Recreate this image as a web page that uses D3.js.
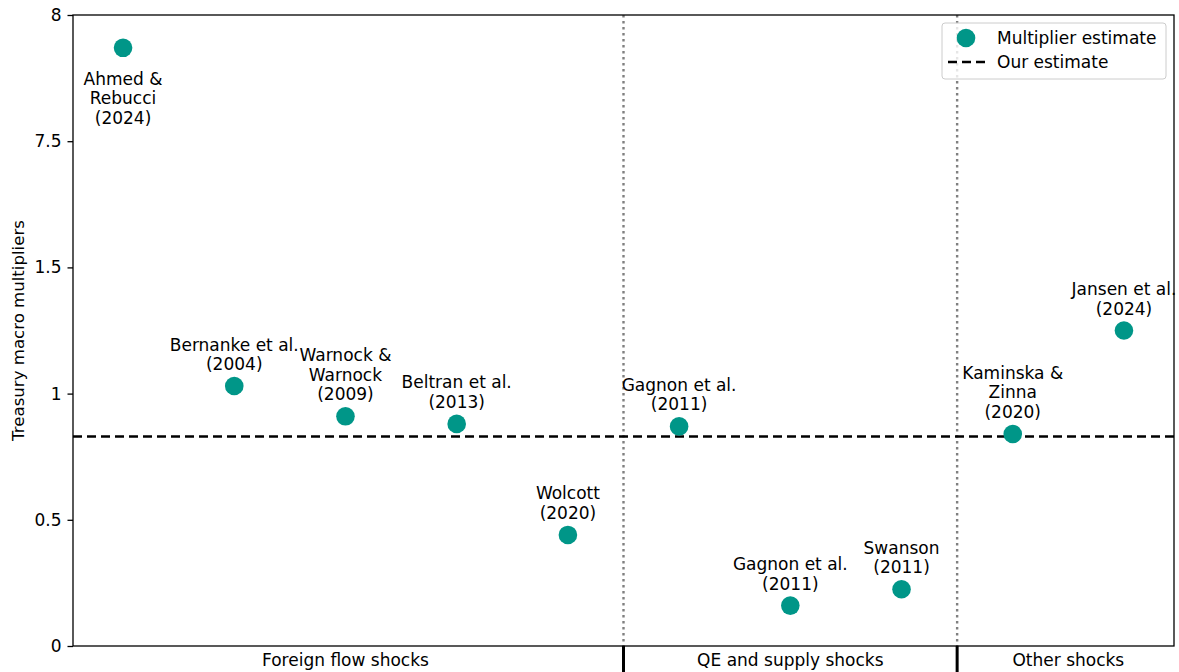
<!DOCTYPE html>
<html>
<head>
<meta charset="utf-8">
<script src="https://cdn.jsdelivr.net/npm/d3@7"></script>
<style>
  html, body { margin: 0; padding: 0; background: #fff; }
  svg { display: block; }
  text { font-family: "DejaVu Sans", sans-serif; fill: #000; }
</style>
</head>
<body>
<svg id="chart" width="1179" height="672"></svg>
<script>
// Studies, in plotting order (x = 1..10)
const studies = [
  ["Ahmed &", "Rebucci", "(2024)"],
  ["Bernanke et al.", "(2004)"],
  ["Warnock &", "Warnock", "(2009)"],
  ["Beltran et al.", "(2013)"],
  ["Wolcott", "(2020)"],
  ["Gagnon et al.", "(2011)"],
  ["Gagnon et al.", "(2011)"],
  ["Swanson", "(2011)"],
  ["Kaminska &", "Zinna", "(2020)"],
  ["Jansen et al.", "(2024)"]
];
// Estimated Treasury macro multipliers
const multipliers = [7.87, 1.03, 0.91, 0.88, 0.44, 0.87, 0.16, 0.225, 0.84, 1.25];
// Label placement: "below" the marker or "above" it
const labelSide = ["below", "above", "above", "above", "above", "above", "above", "above", "above", "above"];
const ourEstimate = 0.83;

// Shock groups with the x position of their caption
const groupNames = ["Foreign flow shocks", "QE and supply shocks", "Other shocks"];
const groupCenters = [3, 7, 9.5];
const groupBreaks = [5.5, 8.5];

// Broken y axis: 0–1.5 linear, 1.5–7.5 compressed, 7.5–8 linear
const yBreakDomain = [0, 1.5, 7.5, 8];
const yTickValues = [0, 0.5, 1, 1.5, 7.5, 8];
const yTickLabels = ["0", "0.5", "1", "1.5", "7.5", "8"];

const svg = d3.select("#chart");
const m = { left: 73, right: 1174, top: 15, bottom: 646 };
const fs = 17;

const x = d3.scaleLinear().domain([0.55, 10.45]).range([m.left, m.right]);
const step = (m.bottom - m.top) / 5;
const y = d3.scaleLinear()
  .domain(yBreakDomain)
  .range([m.bottom, m.bottom - 3 * step, m.bottom - 4 * step, m.top]);

const teal = "#009688";

// Group separators inside the plot (dotted)
svg.append("g").selectAll("line").data(groupBreaks).join("line")
  .attr("x1", d => x(d)).attr("x2", d => x(d))
  .attr("y1", m.top).attr("y2", m.bottom)
  .attr("stroke", "#808080").attr("stroke-width", 2.4)
  .attr("stroke-dasharray", "2.4,3.6");

// Our estimate (dashed)
svg.append("line")
  .attr("x1", m.left).attr("x2", m.right)
  .attr("y1", y(ourEstimate)).attr("y2", y(ourEstimate))
  .attr("stroke", "#000").attr("stroke-width", 2.3)
  .attr("stroke-dasharray", "9,5");

// Markers
const pts = studies.map((s, i) => ({ lines: s, v: multipliers[i], side: labelSide[i], xi: i + 1 }));
svg.append("g").selectAll("circle").data(pts).join("circle")
  .attr("cx", d => x(d.xi)).attr("cy", d => y(d.v))
  .attr("r", 9.3).attr("fill", teal);

// Labels
const lh = 19.5;
const labels = svg.append("g").selectAll("text").data(pts).join("text")
  .attr("text-anchor", "middle")
  .attr("font-size", fs)
  .attr("dominant-baseline", "central");
labels.each(function (d) {
  const n = d.lines.length;
  const cx = x(d.xi), cy = y(d.v);
  const first = d.side === "below" ? cy + 31 : cy - 22 - (n - 1) * lh;
  d3.select(this).selectAll("tspan").data(d.lines).join("tspan")
    .attr("x", cx)
    .attr("y", (t, k) => first + k * lh)
    .text(t => t);
});

// Frame
svg.append("rect")
  .attr("x", m.left).attr("y", m.top)
  .attr("width", m.right - m.left).attr("height", m.bottom - m.top)
  .attr("fill", "none").attr("stroke", "#000").attr("stroke-width", 1.3);

// Y axis
const yAxis = d3.axisLeft(y).tickValues(yTickValues)
  .tickFormat((d, i) => yTickLabels[i]).tickSize(5.5).tickPadding(6);
const ya = svg.append("g").attr("transform", `translate(${m.left},0)`).call(yAxis);
ya.select(".domain").remove();
ya.selectAll(".tick line").attr("stroke", "#000").attr("stroke-width", 1.3);
ya.selectAll(".tick text").attr("font-size", fs).attr("font-family", "DejaVu Sans, sans-serif").attr("fill", "#000");

svg.append("text")
  .attr("transform", `translate(18,${(m.top + m.bottom) / 2}) rotate(-90)`)
  .attr("text-anchor", "middle").attr("dominant-baseline", "central")
  .attr("font-size", 16.6)
  .text("Treasury macro multipliers");

// Group separators below the axis (solid)
svg.append("g").selectAll("line").data(groupBreaks).join("line")
  .attr("x1", d => x(d)).attr("x2", d => x(d))
  .attr("y1", m.bottom).attr("y2", 672)
  .attr("stroke", "#000").attr("stroke-width", 3);

// Group captions
svg.append("g").selectAll("text").data(groupNames).join("text")
  .attr("x", (d, i) => x(groupCenters[i]))
  .attr("y", 660)
  .attr("text-anchor", "middle").attr("dominant-baseline", "central")
  .attr("font-size", fs)
  .text(d => d);

// Legend
const lg = svg.append("g").attr("transform", "translate(942,23)");
lg.append("rect").attr("width", 224).attr("height", 56).attr("rx", 3)
  .attr("fill", "#fff").attr("fill-opacity", 0.8)
  .attr("stroke", "#cccccc").attr("stroke-width", 1);
lg.append("circle").attr("cx", 24).attr("cy", 15).attr("r", 9.3).attr("fill", teal);
lg.append("line").attr("x1", 6).attr("x2", 46).attr("y1", 39).attr("y2", 39)
  .attr("stroke", "#000").attr("stroke-width", 2.3).attr("stroke-dasharray", "9,5");
lg.append("text").attr("x", 55).attr("y", 15).attr("dominant-baseline", "central")
  .attr("font-size", fs).text("Multiplier estimate");
lg.append("text").attr("x", 55).attr("y", 39).attr("dominant-baseline", "central")
  .attr("font-size", fs).text("Our estimate");
</script>
</body>
</html>
